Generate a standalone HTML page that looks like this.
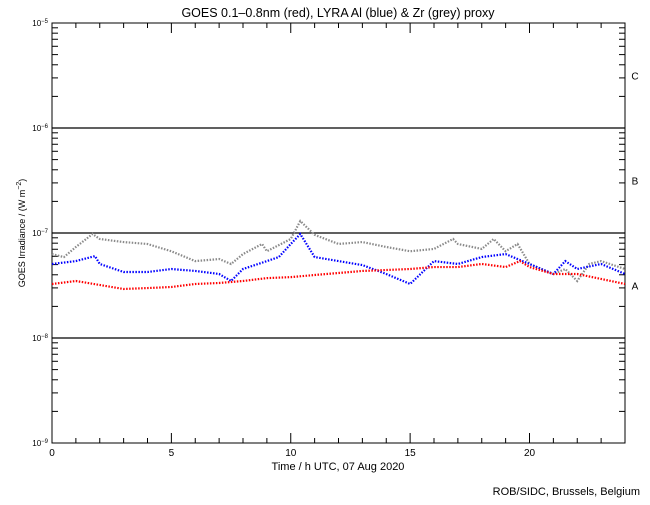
<!DOCTYPE html>
<html><head><meta charset="utf-8"><style>
body{margin:0;background:#fff}
svg text{font-family:"Liberation Sans",sans-serif;fill:#000}
</style></head><body>
<svg id="c" width="650" height="500">
<text x="338" y="17" font-size="12.5" text-anchor="middle">GOES 0.1–0.8nm (red), LYRA Al (blue) &amp; Zr (grey) proxy</text>
<text transform="translate(25,233) rotate(-90)" font-size="9" text-anchor="middle">GOES Irradiance / (W m<tspan dy="-4" font-size="7">−2</tspan><tspan dy="4">)</tspan></text>
<text x="338" y="470" font-size="11" text-anchor="middle">Time / h UTC, 07 Aug 2020</text>
<text x="640" y="495" font-size="11" text-anchor="end">ROB/SIDC, Brussels, Belgium</text>
<g id="g"></g>
</svg>
<script>
const redT=[0,1,2,3,4,5,6,7,8,9,10,11,12,13,14,15,16,17,18,19,19.6,20,21,22,23,24];
const redV=[3.27,3.49,3.2,2.93,2.99,3.06,3.27,3.34,3.49,3.72,3.8,3.98,4.16,4.35,4.44,4.54,4.74,4.74,5.07,4.74,5.4,4.74,4.07,4.07,3.65,3.27];
const blueT=[0,1,1.8,2,3,4,5,6,7,7.5,8,9,9.5,10,10.4,11,12,13,14,15,16,17,18,19,20,21,21.5,22,23,24];
const blueV=[5.07,5.4,6.03,5.07,4.25,4.25,4.54,4.35,4.07,3.49,4.54,5.4,5.9,7.86,9.78,5.9,5.4,4.95,4.07,3.27,5.4,5.07,5.9,6.3,5.07,4.07,5.4,4.54,5.07,4.07];
const greyT=[0,0.5,1,1.7,2,3,4,5,6,7,7.5,8,8.8,9,10,10.4,11,12,13,14,15,16,16.8,17,18,18.5,19,19.5,20,21,21.5,22,22.5,23,24];
const greyV=[6.3,5.9,7.36,9.78,8.77,8.2,7.86,6.7,5.4,5.65,5.07,6.3,7.86,6.7,8.77,13.0,9.6,7.86,8.2,7.36,6.7,7.05,8.77,7.86,7.05,8.77,6.7,7.86,5.07,4.07,4.54,3.49,5.07,5.4,4.54];
const yTickExp=[-5,-6,-7,-8,-9];
const xTicks=[0,5,10,15,20];
const classes=[["C",-5.5],["B",-6.5],["A",-7.5]];
const L=52,R=625,T=23,B=443,DEC=105;
const X=t=>L+t*(R-L)/24;
const Y=v=>T+(-5-Math.log10(v))*DEC; // v in W m^-2
const g=document.getElementById('g');
const NS='http://www.w3.org/2000/svg';
function mk(tag,a){const e=document.createElementNS(NS,tag);for(const k in a)e.setAttribute(k,a[k]);g.appendChild(e);return e;}
let e=mk('rect',{x:L,y:T,width:R-L,height:B-T,fill:'none',stroke:'#000','stroke-width':1});


yTickExp.forEach(p=>{
  const y=T+(-5-p)*DEC;
  if(p>-9&&p<-5){const l=mk('line',{x1:L,x2:R,y1:y,y2:y,stroke:'#000','stroke-width':1.2});
  
  }
  const t=mk('text',{x:L-4,y:y+3,'font-size':8,'text-anchor':'end'});
  
  
  t.innerHTML='10<tspan dy="-3" font-size="6">−'+(-p)+'</tspan>';
  if(p>-9)for(let m=2;m<=9;m++){const yy=y+DEC*(1-Math.log10(m));
    mk('line',{x1:L,x2:L+6,y1:yy,y2:yy,stroke:'#000'});mk('line',{x1:R-6,x2:R,y1:yy,y2:yy,stroke:'#000'});}
});
for(let h=0;h<=24;h++){const x=X(h),len=h%5===0?10:5;
  mk('line',{x1:x,x2:x,y1:B,y2:B-len,stroke:'#000'});mk('line',{x1:x,x2:x,y1:T,y2:T+len,stroke:'#000'});}
xTicks.forEach(h=>{const t=mk('text',{x:X(h),y:B+13,'font-size':10,'text-anchor':'middle'});t.textContent=h;
  
  });
classes.forEach(([c,p])=>{const t=mk('text',{x:635,y:T+(-5-p)*DEC+4,'font-size':10,'text-anchor':'middle'});t.textContent=c;
  
  });
function series(T_,V,col,name){
  const pts=T_.map((t,i)=>X(t)+','+Y(V[i]*1e-8)).join(' ');
  const p=mk('polyline',{points:pts,fill:'none',stroke:col,'stroke-width':2.2,'stroke-dasharray':'1.5 1.5'});
  
  
}
series(greyT,greyV,'#8a8a8a','zr-grey-series');
series(blueT,blueV,'#0000ff','al-blue-series');
series(redT,redV,'#ff0000','goes-red-series');
</script>
</body></html>
